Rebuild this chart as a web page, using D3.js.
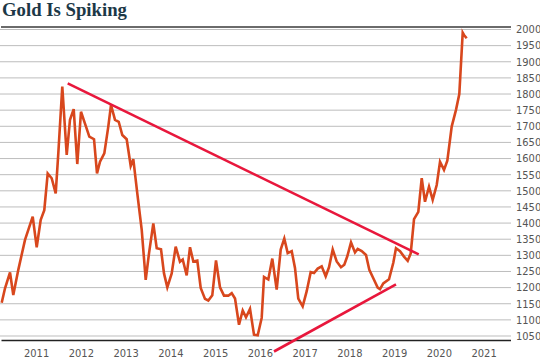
<!DOCTYPE html>
<html>
<head>
<meta charset="utf-8">
<script src="https://cdn.jsdelivr.net/npm/d3@7"></script>
<style>
  html, body { margin: 0; padding: 0; background: #fff; }
  svg { display: block; }
  .tick-label { font-family: 'Liberation Sans Narrow', 'DejaVu Sans Condensed', 'Roboto', sans-serif; font-stretch: condensed; font-size: 11px; fill: #555; }
</style>
</head>
<body>
<svg id="chart" width="540" height="360"></svg>
<script>
// ---- data ----
const titleText = "Gold Is Spiking";
const yearTicks = [2011, 2012, 2013, 2014, 2015, 2016, 2017, 2018, 2019, 2020, 2021];
const priceTicks = [1050, 1100, 1150, 1200, 1250, 1300, 1350, 1400, 1450, 1500, 1550, 1600, 1650, 1700, 1750, 1800, 1850, 1900, 1950, 2000];

const dates = [
  2010.220, 2010.294, 2010.406, 2010.479, 2010.591, 2010.741, 2010.913, 2011.002, 2011.092, 2011.172,
  2011.248, 2011.337, 2011.427, 2011.485, 2011.574, 2011.673, 2011.746, 2011.829, 2011.909, 2011.992,
  2012.104, 2012.178, 2012.283, 2012.350, 2012.417, 2012.513, 2012.602, 2012.663, 2012.752, 2012.835,
  2012.915, 2013.013, 2013.103, 2013.161, 2013.250, 2013.349, 2013.438, 2013.512, 2013.608, 2013.684,
  2013.780, 2013.847, 2013.921, 2014.019, 2014.108, 2014.204, 2014.265, 2014.354, 2014.428, 2014.502,
  2014.591, 2014.667, 2014.763, 2014.837, 2014.926, 2015.009, 2015.098, 2015.188, 2015.284, 2015.360,
  2015.434, 2015.523, 2015.606, 2015.679, 2015.769, 2015.858, 2015.941, 2016.030, 2016.082, 2016.178,
  2016.267, 2016.365, 2016.455, 2016.535, 2016.611, 2016.701, 2016.774, 2016.848, 2016.946, 2017.036,
  2017.125, 2017.199, 2017.282, 2017.371, 2017.460, 2017.534, 2017.617, 2017.706, 2017.802, 2017.876,
  2017.943, 2018.026, 2018.115, 2018.175, 2018.265, 2018.361, 2018.435, 2018.524, 2018.622, 2018.674,
  2018.747, 2018.875, 2018.971, 2019.031, 2019.121, 2019.210, 2019.293, 2019.360, 2019.434, 2019.530,
  2019.606, 2019.679, 2019.769, 2019.851, 2019.941, 2020.015, 2020.104, 2020.178, 2020.276, 2020.372,
  2020.446, 2020.522, 2020.551, 2020.611
];
const prices = [
  1153, 1198, 1247, 1177, 1255, 1348, 1420, 1325, 1410, 1440,
  1554, 1539, 1492, 1616, 1823, 1611, 1720, 1753, 1583, 1745,
  1699, 1668, 1660, 1554, 1590, 1616, 1699, 1766, 1720, 1714,
  1673, 1660, 1577, 1598, 1492, 1379, 1224, 1306, 1399, 1322,
  1319, 1244, 1201, 1244, 1327, 1280, 1287, 1238, 1325, 1281,
  1284, 1199, 1165, 1160, 1176, 1284, 1201, 1175, 1175, 1183,
  1166, 1085, 1129, 1108, 1134, 1054, 1052, 1106, 1233, 1225,
  1290, 1194, 1318, 1352, 1307, 1313, 1261, 1166, 1142, 1189,
  1248, 1245, 1259, 1266, 1235, 1263, 1318, 1281, 1263, 1271,
  1297, 1340, 1309, 1320, 1313, 1301, 1255, 1229, 1200, 1195,
  1213, 1226, 1277, 1322, 1313, 1296, 1283, 1306, 1412, 1435,
  1539, 1466, 1513, 1472, 1518, 1590, 1565, 1593, 1699, 1751,
  1800, 1990, 1983, 1973
];

// trend lines: [start, end] as [date, price]
const resistanceDates = [2011.695, 2019.539];
const resistancePrices = [1833, 1303];
const supportDates = [2016.305, 2019.031];
const supportPrices = [1002, 1210];

// ---- drawing ----
const svg = d3.select("#chart");
const x = d3.scaleLinear().domain([2011, 2021]).range([36.6, 484.1]);
const y = d3.scaleLinear().domain([1050, 2000]).range([336, 29.5]);
const gridLeft = 0, gridRight = 511;

// title
svg.append("text")
  .attr("x", 2).attr("y", 16)
  .attr("font-family", "'Liberation Serif', 'DejaVu Serif', serif")
  .attr("font-weight", "bold")
  .attr("font-size", 19)
  .attr("textLength", 125)
  .attr("lengthAdjust", "spacingAndGlyphs")
  .attr("fill", "#1c3847")
  .text(titleText);

// gridlines
svg.append("g").selectAll("line").data(priceTicks).join("line")
  .attr("x1", gridLeft).attr("x2", gridRight)
  .attr("y1", d => y(d)).attr("y2", d => y(d))
  .attr("stroke", "#bdbdbd").attr("stroke-width", 1);

// top rule
svg.append("line")
  .attr("x1", 1).attr("x2", gridRight).attr("y1", 27).attr("y2", 27)
  .attr("stroke", "#3a3a3a").attr("stroke-width", 1.5);

// bottom axis rule
svg.append("line")
  .attr("x1", 1.5).attr("x2", gridRight).attr("y1", 340.5).attr("y2", 340.5)
  .attr("stroke", "#222").attr("stroke-width", 1.5);

// y labels
svg.append("g").selectAll("text").data(priceTicks).join("text")
  .attr("class", "tick-label")
  .attr("x", 516).attr("y", d => y(d)).attr("dy", "0.35em")
  .text(d => d);

// x labels
svg.append("g").selectAll("text").data(yearTicks).join("text")
  .attr("class", "tick-label")
  .attr("x", d => x(d)).attr("y", 357)
  .attr("text-anchor", "middle")
  .text(d => d);

// price line
const series = dates.map((d, i) => ({ date: d, price: prices[i] }));
svg.append("path")
  .datum(series)
  .attr("fill", "none")
  .attr("stroke", "#d8471d")
  .attr("stroke-width", 2.6)
  .attr("stroke-linejoin", "miter")
  .attr("d", d3.line().x(d => x(d.date)).y(d => y(d.price)));

// trend lines
const trend = (ds, ps) => ds.map((d, i) => ({ date: d, price: ps[i] }));
[trend(resistanceDates, resistancePrices), trend(supportDates, supportPrices)].forEach(t => {
  svg.append("path")
    .datum(t)
    .attr("fill", "none")
    .attr("stroke", "#e8173c")
    .attr("stroke-width", 2.6)
    .attr("d", d3.line().x(d => x(d.date)).y(d => y(d.price)));
});
</script>
</body>
</html>
